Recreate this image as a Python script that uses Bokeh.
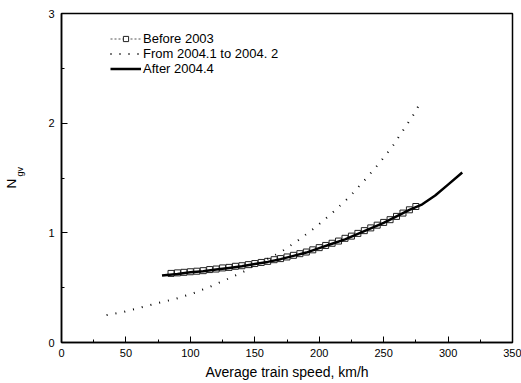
from bokeh.plotting import figure
from bokeh.models import Range1d, SingleIntervalTicker, FixedTicker, Legend, LegendItem, LinearAxis
from bokeh.embed import file_html
from bokeh.resources import INLINE

# Data
before_x = [85, 90, 95, 100, 105, 110, 115, 120, 125, 130, 135, 140, 145, 150, 155, 160,
            165, 170, 175, 180, 185, 190, 195, 200, 205, 210, 215, 220, 225, 230, 235, 240,
            245, 250, 255, 260, 265, 270, 275]
before_y = [0.63, 0.635, 0.64, 0.645, 0.65, 0.655, 0.665, 0.67, 0.68, 0.685, 0.695, 0.70,
            0.71, 0.72, 0.73, 0.74, 0.755, 0.765, 0.78, 0.795, 0.81, 0.825, 0.845, 0.865,
            0.885, 0.905, 0.925, 0.95, 0.97, 0.995, 1.02, 1.045, 1.07, 1.095, 1.12, 1.15,
            1.18, 1.21, 1.24]

mid_x = [35, 48.5, 61.5, 75, 89, 102.5, 115.6, 129, 142, 156, 169.6, 183.5, 197, 210,
         223.6, 236, 247, 257.5, 266, 274.5, 278]
mid_y = [0.25, 0.28, 0.32, 0.36, 0.40, 0.45, 0.51, 0.58, 0.65, 0.74, 0.82, 0.93, 1.05,
         1.18, 1.33, 1.49, 1.64, 1.80, 1.95, 2.10, 2.18]

after_x = [78, 90, 100, 110, 120, 130, 140, 150, 160, 170, 180, 190, 200, 210, 220, 230,
           240, 250, 260, 270, 280, 290, 300, 311]
after_y = [0.61, 0.625, 0.64, 0.65, 0.665, 0.68, 0.695, 0.715, 0.735, 0.76, 0.79, 0.82,
           0.86, 0.90, 0.94, 0.99, 1.04, 1.09, 1.15, 1.21, 1.26, 1.34, 1.44, 1.55]

FONT = "Liberation Sans"
NB = "\u00a0"

p = figure(width=521, height=383, output_backend="svg", toolbar_location=None,
           x_range=Range1d(0, 350), y_range=Range1d(0, 3),
           min_border_left=58, min_border_right=9, min_border_top=13, min_border_bottom=41)
p.grid.visible = False
p.outline_line_color = "black"
p.outline_line_width = 1.5
p.background_fill_color = "white"
p.border_fill_color = "white"

for ax in (p.xaxis[0], p.yaxis[0]):
    ax.major_tick_in = 6
    ax.major_tick_out = 0
    ax.minor_tick_in = 3
    ax.minor_tick_out = 0
    ax.axis_line_color = "black"
    ax.axis_line_width = 1.5
    ax.major_tick_line_color = "black"
    ax.minor_tick_line_color = "black"
    ax.major_label_text_font = FONT
    ax.major_label_text_font_size = "11px"
    ax.major_label_text_color = "black"
    ax.axis_label_text_font = FONT
    ax.axis_label_text_font_style = "normal"
    ax.axis_label_text_color = "black"

p.xaxis[0].ticker = SingleIntervalTicker(interval=50, num_minor_ticks=2)
p.yaxis[0].ticker = SingleIntervalTicker(interval=1, num_minor_ticks=2)
p.xaxis[0].axis_label = "Average train speed, km/h"
p.xaxis[0].axis_label_text_font_size = "14px"
p.xaxis[0].major_label_standoff = 6
p.xaxis[0].axis_label_standoff = 4
p.yaxis[0].major_label_standoff = 7

# y label: N with subscript gv (subscript on the inner axis, N on an outer axis)
p.yaxis[0].axis_label = NB * 5 + "gv"
p.yaxis[0].axis_label_text_font_size = "9px"
p.yaxis[0].axis_label_standoff = 20

outer = LinearAxis(ticker=FixedTicker(ticks=[]), axis_label="N" + NB * 3,
                   axis_line_color=None, major_tick_line_color=None,
                   minor_tick_line_color=None, major_label_text_font_size="0px",
                   axis_label_text_font=FONT, axis_label_text_font_size="13.5px",
                   axis_label_text_font_style="normal", axis_label_text_color="black",
                   axis_label_standoff=-6)
p.add_layout(outer, "left")

r_bl = p.line(before_x, before_y, line_color="#555555", line_width=1, line_dash="2 2")
r_bs = p.scatter(before_x, before_y, marker="square", size=6, line_color="#222222",
                 fill_color="white", line_width=1)
r_mid = p.line(mid_x, mid_y, line_color="black", line_width=2, line_dash="1 8")
r_aft = p.line(after_x, after_y, line_color="black", line_width=2.5)

legend = Legend(items=[LegendItem(label="Before 2003", renderers=[r_bl, r_bs]),
                       LegendItem(label="From 2004.1 to 2004. 2", renderers=[r_mid]),
                       LegendItem(label="After 2004.4", renderers=[r_aft])],
                location=(49, 266), border_line_color=None, background_fill_alpha=0,
                padding=0, margin=0, spacing=0, glyph_width=31, glyph_height=13,
                label_height=13, label_standoff=2, label_text_font=FONT,
                label_text_font_size="13px", label_text_color="black")
p.add_layout(legend, "center")

open("out.html", "w").write(file_html(p, INLINE))
